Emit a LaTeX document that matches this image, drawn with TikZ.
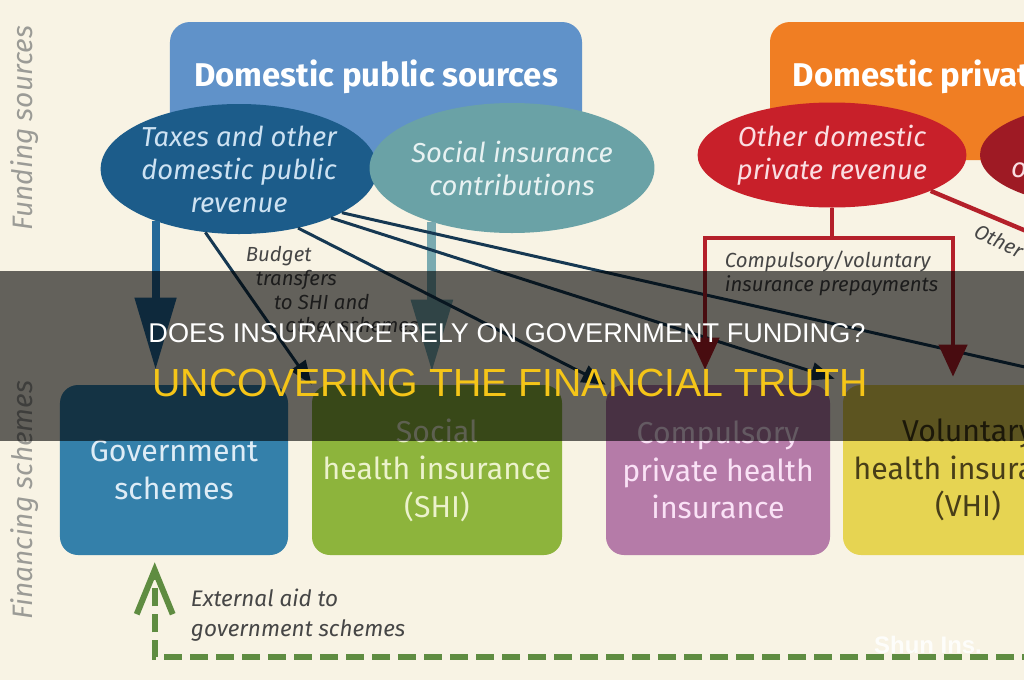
\documentclass[tikz,border=0pt]{standalone}
\usepackage{fontspec}
\setmainfont{Fira Sans}
\newfontfamily\bannerfont{Liberation Sans}
\usetikzlibrary{arrows.meta,positioning,calc,shapes.geometric}

\definecolor{paper}{RGB}{248,243,228}
\definecolor{pubblue}{RGB}{96,146,201}
\definecolor{privorange}{RGB}{240,126,35}
\definecolor{taxblue}{RGB}{28,92,138}
\definecolor{sicteal}{RGB}{106,162,166}
\definecolor{revred}{RGB}{200,32,42}
\definecolor{rowred}{RGB}{158,26,36}
\definecolor{govblue}{RGB}{52,128,170}
\definecolor{shigreen}{RGB}{141,180,60}
\definecolor{cphpurple}{RGB}{181,123,168}
\definecolor{vhiyellow}{RGB}{230,212,82}
\definecolor{navy}{RGB}{22,56,82}
\definecolor{govline}{RGB}{36,104,152}
\definecolor{tealline}{RGB}{122,170,176}
\definecolor{prepred}{RGB}{180,32,42}
\definecolor{aidgreen}{RGB}{95,140,65}
\definecolor{lblgray}{RGB}{70,70,70}
\definecolor{axisgray}{RGB}{155,155,150}
\definecolor{gold}{RGB}{245,197,24}
\definecolor{taxtext}{RGB}{205,226,242}
\definecolor{sictext}{RGB}{232,242,242}
\definecolor{revtext}{RGB}{250,222,226}
\definecolor{govtext}{RGB}{222,236,246}
\definecolor{shitext}{RGB}{236,242,204}
\definecolor{cphtext}{RGB}{250,226,246}
\definecolor{vhitext}{RGB}{72,62,24}

\begin{document}
\begin{tikzpicture}[
  x=0.25mm,y=-0.25mm,
  every node/.style={align=center},
  srcbox/.style={rectangle,rounded corners=5mm,minimum height=34.5mm,inner sep=0pt},
  srctitle/.style={text=white,font=\fontsize{23.4}{28}\selectfont\bfseries},
  revenue/.style={ellipse,minimum width=65.5mm,minimum height=32.5mm,inner sep=0pt,
    font=\fontsize{19.5}{23.5}\selectfont\itshape},
  scheme/.style={rectangle,rounded corners=4.5mm,minimum height=42.5mm,inner sep=0pt,
    font=\fontsize{21.5}{26.7}\selectfont},
  flowlbl/.style={text=lblgray,font=\fontsize{14.5}{17}\selectfont\itshape,align=left},
  axislbl/.style={text=axisgray,rotate=90,font=\fontsize{20}{24}\selectfont\itshape},
  govflow/.style={draw=govline,line width=2mm,-{Triangle[length=18mm,width=10mm]},shorten >=3.75mm},
  shiflow/.style={draw=tealline,line width=2.25mm,-{Triangle[length=18mm,width=10mm]},shorten >=3.25mm},
  transfer/.style={draw=navy,line width=0.75mm,-{Triangle[length=6mm,width=4.5mm]}},
  prepay/.style={draw=prepred,line width=1.1mm},
  aidflow/.style={draw=aidgreen,line width=1.5mm,dash pattern=on 4.5mm off 2mm,
    -{Straight Barb[length=11mm,width=9mm,line width=1.5mm]},shorten >=1.75mm}
]
\useasboundingbox (0,0) rectangle (1024,680);
\clip (0,0) rectangle (1024,680);
\fill[paper] (0,0) rectangle (1024,680);

% side captions
\node[axislbl] (fundcap) at (25,128) {Funding sources};
\node[axislbl] (fincap) at (25,500) {Financing schemes};

% funding sources
\node[srcbox,fill=pubblue,minimum width=103mm] (pub) at (376,91) {};
\node[srctitle,anchor=base] (publbl) at (376,86) {Domestic public sources};
\node[srcbox,fill=privorange,minimum width=120mm] (priv) at (1010,91) {};
\node[srctitle,anchor=base west] (privlbl) at (788,86) {Domestic private sources};

\node[revenue,fill=taxblue,text=taxtext] (taxes) at (239,169)
  {Taxes and other\\domestic public\\revenue};
\node[revenue,fill=sicteal,text=sictext] (sic) at (512,168)
  {Social insurance\\contributions};
\node[revenue,fill=revred,minimum height=26.25mm,text=revtext] (odpr) at (832,155)
  {Other domestic\\private revenue};
\node[revenue,fill=rowred,minimum height=26.25mm] (row) at (1111,155) {};
\node[font=\fontsize{19.5}{23.5}\selectfont\itshape,text=revtext] (rowlbl) at (1019,170) {o};

% financing schemes
\node[scheme,fill=govblue,minimum width=57mm,text=govtext] (gov) at (174,470)
  {Government\\schemes};
\node[scheme,fill=shigreen,minimum width=62.5mm,text=shitext] (shi) at (437,470)
  {Social\\health insurance\\(SHI)};
\node[scheme,fill=cphpurple,minimum width=56mm,text=cphtext] (cph) at (718,470)
  {Compulsory\\private health\\insurance};
\node[scheme,fill=vhiyellow,minimum width=62.5mm,text=vhitext] (vhi) at (968,470)
  {Voluntary\\health insurance\\(VHI)};

% public flows
\draw[govflow] (taxes.212) -- (taxes.212 |- gov.north);
\draw[shiflow] (sic.214) -- (sic.214 |- shi.north);
\coordinate (npishend) at (1100,384);
\draw[transfer] (taxes.242) -- (shi.north west);
\draw[transfer] (taxes.-45) -- (cph.north west);
\draw[transfer] (taxes.-28) -- ($(vhi.north west)+(-8,-6)$);
\draw[transfer,-] (taxes.-23) -- (npishend);
\node[flowlbl,anchor=north west] (budlbl) at (241,241)
  {Budget\\\hspace*{7pt}transfers\\\hspace*{20pt}to SHI and\\\hspace*{28pt}other schemes};

% private flows
\coordinate (pfork) at (832,238);
\draw[prepay] (odpr.south) -- (pfork);
\draw[prepay,-{Triangle[length=8mm,width=7mm]}] (pfork) -| ($(cph.north)+(-13,-15)$);
\draw[prepay,-{Triangle[length=8mm,width=7mm]}] (pfork) -| ($(vhi.north)+(-15,-8)$);
\node[flowlbl,anchor=north west] (prepaylbl) at (720,246)
  {Compulsory/voluntary\\insurance prepayments};
\coordinate (otherend) at (1100,262);
\draw[prepay] (odpr.-20) -- (otherend);
\node[flowlbl,rotate=-26] (otherlbl) at (999,241) {Other};

% external aid
\coordinate (aidend) at (1040,657);
\draw[aidflow] (aidend) -| ($(gov.south west)+(95,0)$);
\node[flowlbl,font=\fontsize{16}{21}\selectfont\itshape,anchor=north west] (aidlbl) at (186,584)
  {External aid to\\government schemes};

% banner
\fill[black,opacity=0.6] (0,271) rectangle (1024,441);
\node[text=white,font=\bannerfont\fontsize{19.3}{22}\selectfont] (headline) at (507,333)
  {DOES INSURANCE RELY ON GOVERNMENT FUNDING?};
\node[text=gold,font=\bannerfont\fontsize{27.9}{32}\selectfont] (subline) at (510,383)
  {UNCOVERING THE FINANCIAL TRUTH};
\node[text=white,opacity=0.85,font=\bannerfont\fontsize{17}{20}\selectfont\bfseries] (mark) at (928,645) {Shun Ins.};
\end{tikzpicture}
\end{document}
